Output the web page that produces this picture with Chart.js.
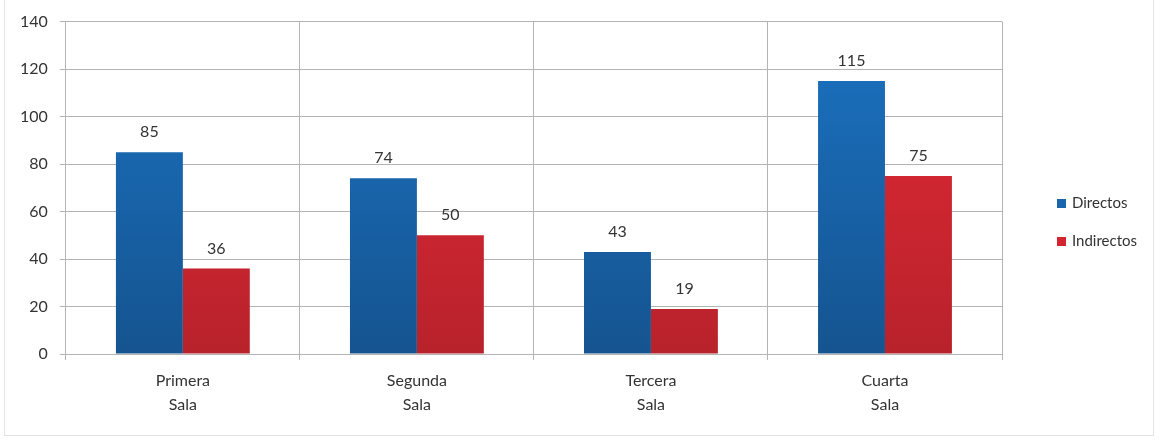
<!DOCTYPE html>
<html lang="es">
<head>
<meta charset="UTF-8">
<title>Salas</title>
<script src="https://cdn.jsdelivr.net/npm/chart.js"></script>
<style>
  body { margin: 0; background: #fff; }
  #wrap { position: absolute; left: 4px; top: -1px; width: 1150px; height: 437px; border: 1px solid #e4e4e4; box-sizing: border-box; }
  #leyenda { position: absolute; left: 1052px; top: 189px; font: 15px Lato, "Open Sans", sans-serif; color: #333; }
  #leyenda div { height: 38px; line-height: 26px; white-space: nowrap; }
  #leyenda span { display: inline-block; width: 9px; height: 9px; margin-right: 6px; vertical-align: 0; }
</style>
</head>
<body>
<div id="wrap"><canvas id="grafico"></canvas><div id="leyenda"></div></div>
<script>
const salas = [['Primera', 'Sala'], ['Segunda', 'Sala'], ['Tercera', 'Sala'], ['Cuarta', 'Sala']];
const directos = [85, 74, 43, 115];
const indirectos = [36, 50, 19, 75];
const yTicks = [0, 20, 40, 60, 80, 100, 120, 140];
const series = ['Directos', 'Indirectos'];
const coloresSerie = ['#1a66ad', '#d3252f'];

const fuente = 'Lato, "Open Sans", sans-serif';

function degradado(ctx, arriba, abajo) {
  const area = ctx.chart.chartArea;
  if (!area) return arriba;
  const g = ctx.chart.ctx.createLinearGradient(0, area.top, 0, area.bottom);
  g.addColorStop(0, arriba);
  g.addColorStop(1, abajo);
  return g;
}

// etiquetas de valor encima de cada barra
const etiquetas = {
  id: 'etiquetas',
  afterDatasetsDraw(chart) {
    const c = chart.ctx;
    c.save();
    c.font = '16px ' + fuente;
    c.fillStyle = '#333';
    c.textAlign = 'center';
    c.textBaseline = 'bottom';
    chart.data.datasets.forEach((ds, i) => {
      chart.getDatasetMeta(i).data.forEach((bar, j) => {
        c.fillText(ds.data[j], bar.x, bar.y - 12);
      });
    });
    c.restore();
  }
};

const grafico = new Chart(document.getElementById('grafico'), {
  type: 'bar',
  data: {
    labels: salas,
    datasets: [
      {
        label: series[0],
        data: directos,
        backgroundColor: ctx => degradado(ctx, '#1b72c2', '#155490'),
        borderWidth: 0
      },
      {
        label: series[1],
        data: indirectos,
        backgroundColor: ctx => degradado(ctx, '#e42a36', '#b8222b'),
        borderWidth: 0
      }
    ]
  },
  options: {
    responsive: true,
    maintainAspectRatio: false,
    animation: false,
    layout: { padding: { left: 3, right: 151, top: 6, bottom: 9 } },
    datasets: { bar: { categoryPercentage: 0.572, barPercentage: 1 } },
    plugins: {
      legend: { display: false },
      tooltip: { enabled: false }
    },
    scales: {
      x: {
        grid: { color: '#b4b4b4', offset: true, tickLength: 6 },
        border: { color: '#b4b4b4' },
        ticks: { font: { family: fuente, size: 16, lineHeight: 1.5 }, color: '#333', padding: 9 }
      },
      y: {
        min: 0,
        max: 140,
        afterBuildTicks: axis => { axis.ticks = yTicks.map(v => ({ value: v })); },
        grid: { color: '#b4b4b4', tickLength: 6 },
        border: { color: '#b4b4b4' },
        ticks: { font: { family: fuente, size: 16 }, color: '#333', padding: 12 }
      }
    }
  },
  plugins: [etiquetas]
});

// leyenda a la derecha
const leyenda = document.getElementById('leyenda');
grafico.data.datasets.forEach((ds, i) => {
  const fila = document.createElement('div');
  const caja = document.createElement('span');
  caja.style.background = coloresSerie[i];
  fila.appendChild(caja);
  fila.appendChild(document.createTextNode(ds.label));
  leyenda.appendChild(fila);
});
</script>
</body>
</html>
